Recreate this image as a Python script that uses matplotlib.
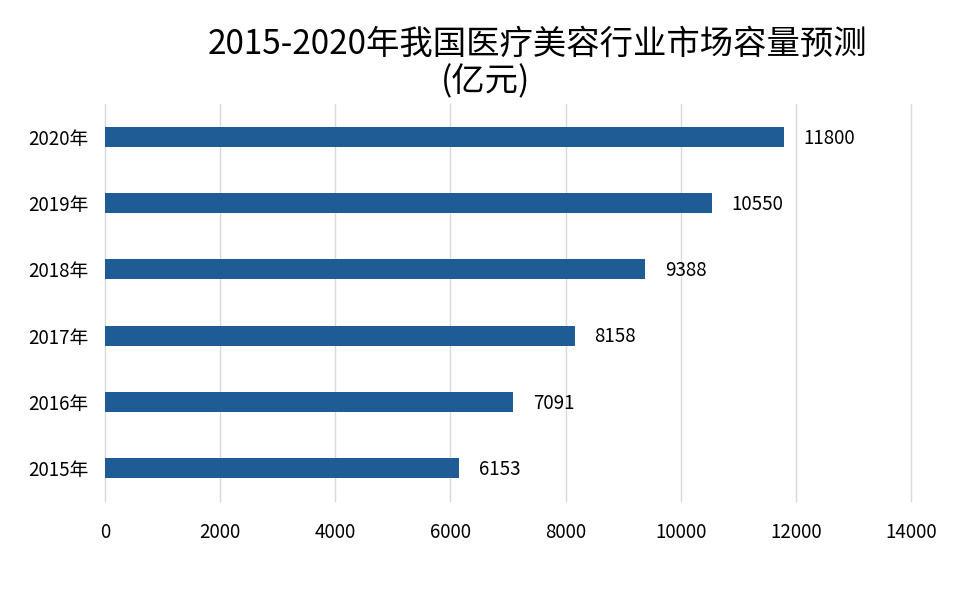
import matplotlib
matplotlib.use("Agg")
import matplotlib.pyplot as plt

plt.rcParams['font.family'] = ['Noto Sans CJK SC', 'DejaVu Sans']

years = ["2015年", "2016年", "2017年", "2018年", "2019年", "2020年"]
values = [6153, 7091, 8158, 9388, 10550, 11800]
xticks = [0, 2000, 4000, 6000, 8000, 10000, 12000, 14000]

fig = plt.figure(figsize=(9.6, 6.1), dpi=100)
ax = fig.add_axes([105/960, 1-501/610, (911-105)/960, (501-104)/610])

pos = list(range(len(years)))
ax.barh(pos, values, height=0.3, color='#1f5b94', zorder=3)
for p, v in zip(pos, values):
    ax.annotate(f"{v}", xy=(v, p), xytext=(14, -1), textcoords='offset points',
                ha='left', va='center', fontsize=13.5, color='#000000')

ax.set_xlim(0, 14000)
ax.set_ylim(-0.5, 5.5)
ax.set_xticks(xticks)
ax.set_xticklabels([str(t) for t in xticks], fontsize=13.5)
ax.set_yticks(pos)
ax.set_yticklabels(years, fontsize=13.5)
ax.tick_params(axis='both', length=0)
ax.tick_params(axis='x', pad=15)
ax.tick_params(axis='y', pad=12)
ax.grid(axis='x', color='#d9d9d9', linewidth=1, zorder=0)
for gl in ax.get_xgridlines():
    gl.set_clip_on(False)
for s in ax.spines.values():
    s.set_visible(False)

fig.text(537/960, 1-44/610, "2015-2020年我国医疗美容行业市场容量预测", ha='center', va='center', fontsize=24)
fig.text(486/960, 1-82/610, "(亿元)", ha='center', va='center', fontsize=24)

fig.savefig("out.png", dpi=100)
